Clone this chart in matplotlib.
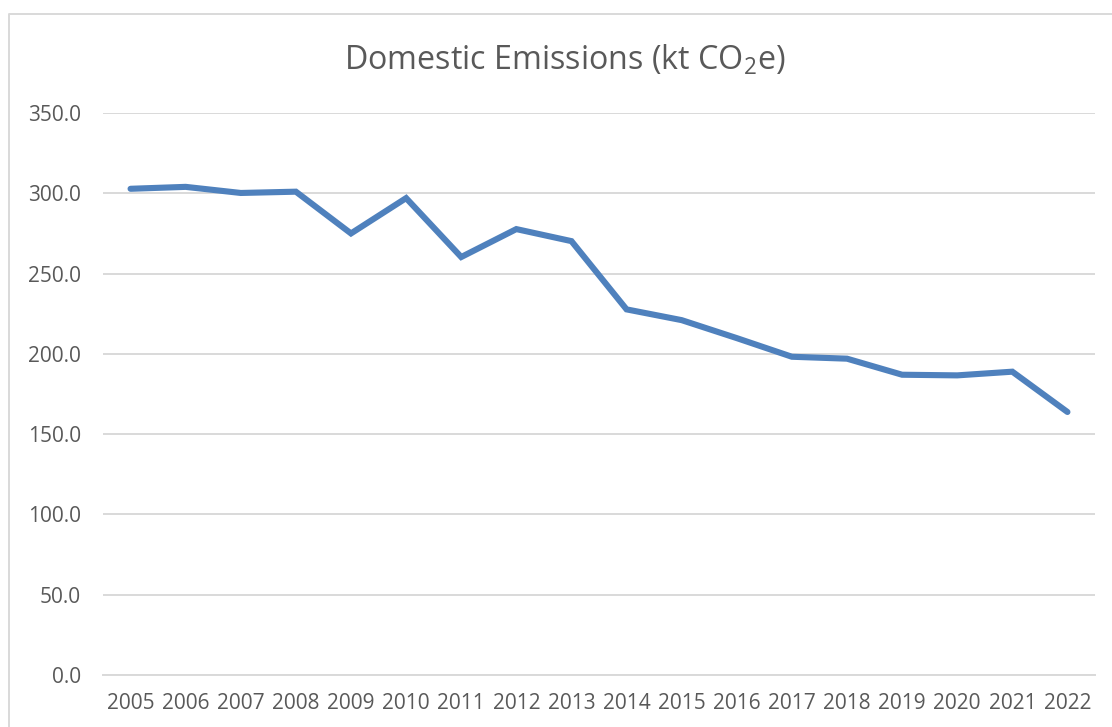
import matplotlib
matplotlib.use("Agg")
import matplotlib.pyplot as plt
from matplotlib.lines import Line2D
import numpy as np

# data
years = ['2005', '2006', '2007', '2008', '2009', '2010', '2011', '2012', '2013',
         '2014', '2015', '2016', '2017', '2018', '2019', '2020', '2021', '2022']
emissions = [302.8, 304.0, 300.2, 301.0, 275.0, 297.0, 260.3, 277.7, 270.2,
             227.7, 221.0, 209.8, 198.2, 197.0, 187.0, 186.6, 188.9, 163.8]
y_ticks = [0, 50, 100, 150, 200, 250, 300, 350]

plt.rcParams['font.family'] = ['Open Sans', 'DejaVu Sans']
plt.rcParams['mathtext.default'] = 'regular'

grey = '#595959'
grid_col = '#d9d9d9'

W, H = 1112, 727
fig = plt.figure(figsize=(W / 100, H / 100), dpi=100)
ax = fig.add_axes([103 / W, 1 - 675 / H, (1095 - 103) / W, (675 - 113) / H])

x = np.arange(len(years))
ax.plot(x, emissions, color='#4f81bd', linewidth=4.4, solid_capstyle='round',
        solid_joinstyle='miter', zorder=3)

ax.set_xlim(-0.5, len(years) - 0.5)
ax.set_ylim(0, 350)
ax.set_yticks(y_ticks)
ax.set_yticklabels([f'{v:.1f}' for v in y_ticks])
ax.set_xticks(x)
ax.set_xticklabels(years)

ax.yaxis.grid(True, color=grid_col, linewidth=1.4)
ax.set_axisbelow(True)
for s in ax.spines.values():
    s.set_visible(False)
ax.spines['bottom'].set_visible(True)
ax.spines['bottom'].set_color(grid_col)
ax.spines['bottom'].set_linewidth(1.4)

ax.tick_params(axis='both', length=0, colors=grey, labelsize=15)
ax.tick_params(axis='y', pad=16)
ax.tick_params(axis='x', pad=13)

# chart title with subscript
fig.text(565 / W, 1 - 70 / H, 'Domestic Emissions (kt CO$_2$e)', ha='center',
         va='baseline', fontsize=23.2, color=grey)

# chart area border (cut off at right and bottom)
fig.add_artist(Line2D([8.5 / W, 8.5 / W, 1.0], [0.0, 1 - 14 / H, 1 - 14 / H],
                      color=grid_col, linewidth=1.4, transform=fig.transFigure))

fig.savefig('out.png', dpi=100, facecolor='white')
